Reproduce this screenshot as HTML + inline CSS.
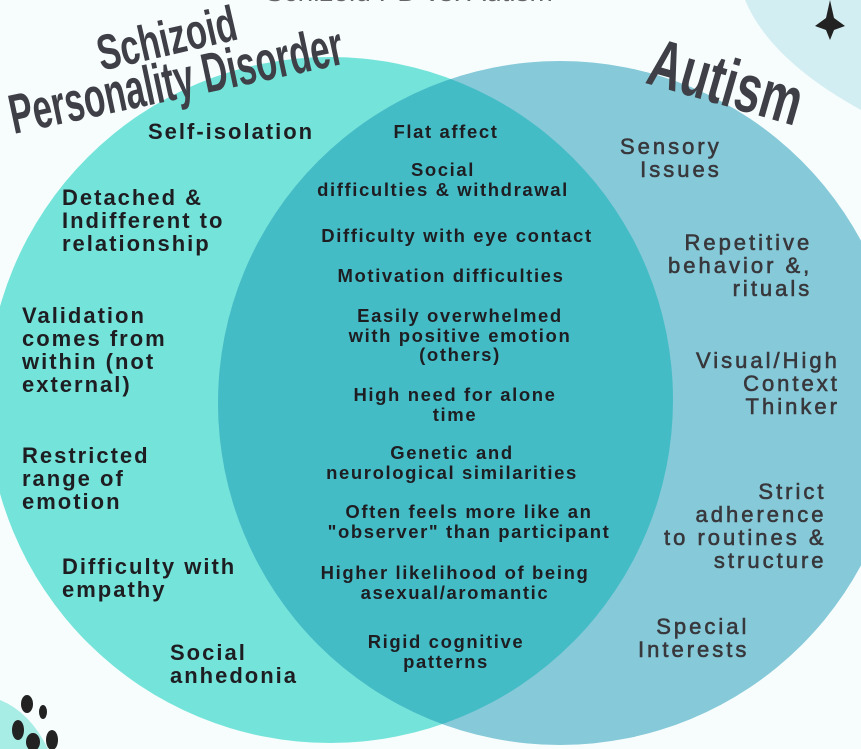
<!DOCTYPE html>
<html><head><meta charset="utf-8"><style>
body{margin:0;width:861px;height:749px;overflow:hidden;background:#f7fdfd;position:relative;font-family:"Liberation Sans",sans-serif}
.t{position:absolute;font-weight:bold;color:#1e1e22;white-space:nowrap}
.L{font-size:22px;letter-spacing:2px;line-height:23px}
.M{font-size:18.5px;letter-spacing:1.6px;line-height:19.5px;text-align:center;transform:translateX(-50%)}
.R{font-size:22px;letter-spacing:3px;color:#38383c;font-weight:normal;-webkit-text-stroke:0.6px #38383c;line-height:23px}
.title{position:absolute;font-weight:bold;color:#3e3f47;white-space:nowrap;font-family:"Liberation Sans Narrow","Liberation Sans",sans-serif;line-height:1}
</style></head><body>
<svg width="861" height="749" style="position:absolute;left:0;top:0">
<defs><clipPath id="c"><circle cx="330" cy="400" r="343"/></clipPath></defs>
<path d="M745 0 Q770 60 861 110 L861 0Z" fill="#d3eef2"/>
<path d="M830 0 L834 18 L845 26 L834 30 L830 40 L826 30 L815 26 L826 18Z" fill="#222"/>
<circle cx="330" cy="400" r="343" fill="#74e4da"/>
<circle cx="560" cy="403" r="342" fill="#86c9d9"/>
<circle cx="560" cy="403" r="342" fill="#44bcc6" clip-path="url(#c)"/>
<path d="M0 700 Q30 712 48 749 L0 749Z" fill="#a8ece6"/>
<g fill="#222"><ellipse cx="27" cy="704" rx="6" ry="9"/><ellipse cx="43" cy="712" rx="4" ry="7"/><ellipse cx="18" cy="730" rx="6" ry="10"/><ellipse cx="33" cy="742" rx="7" ry="9"/><ellipse cx="52" cy="740" rx="6" ry="10"/></g>
</svg>
<div class="title" style="left:265px;top:-22px;font-size:28px;color:#666;font-weight:normal;font-family:'Liberation Sans',sans-serif">Schizoid PD vs. Autism</div>
<div class="title" style="left:92px;top:30px;font-size:50px;transform:rotate(-13deg) scaleX(0.69);transform-origin:left top">Schizoid</div>
<div class="title" style="left:4px;top:88px;font-size:56px;transform:rotate(-12deg) scaleX(0.62);transform-origin:left top">Personality Disorder</div>
<div class="title" style="left:660px;top:28px;font-size:68px;transform:rotate(16deg) scaleX(0.68);transform-origin:left top">Autism</div>

<div class="t L" style="left:148px;top:120px">Self-isolation</div>
<div class="t L" style="left:62px;top:186px">Detached &amp;<br>Indifferent to<br>relationship</div>
<div class="t L" style="left:22px;top:304px">Validation<br>comes from<br>within (not<br>external)</div>
<div class="t L" style="left:22px;top:444px">Restricted<br>range of<br>emotion</div>
<div class="t L" style="left:62px;top:555px">Difficulty with<br>empathy</div>
<div class="t L" style="left:170px;top:641px">Social<br>anhedonia</div>

<div class="t M" style="left:446px;top:122px">Flat affect</div>
<div class="t M" style="left:443px;top:160px">Social<br>difficulties &amp; withdrawal</div>
<div class="t M" style="left:457px;top:226px">Difficulty with eye contact</div>
<div class="t M" style="left:451px;top:266px">Motivation difficulties</div>
<div class="t M" style="left:460px;top:306px">Easily overwhelmed<br>with positive emotion<br>(others)</div>
<div class="t M" style="left:455px;top:385px">High need for alone<br>time</div>
<div class="t M" style="left:452px;top:443px">Genetic and<br>neurological similarities</div>
<div class="t M" style="left:469px;top:502px">Often feels more like an<br>"observer" than participant</div>
<div class="t M" style="left:455px;top:563px">Higher likelihood of being<br>asexual/aromantic</div>
<div class="t M" style="left:446px;top:632px">Rigid cognitive<br>patterns</div>

<div class="t R" style="left:620px;top:135px;text-align:right">Sensory<br>&nbsp;Issues</div>
<div class="t R" style="left:668px;top:231px;text-align:right">Repetitive<br>behavior &amp;,<br>rituals</div>
<div class="t R" style="left:696px;top:349px;text-align:right">Visual/High<br>Context<br>Thinker</div>
<div class="t R" style="left:664px;top:480px;text-align:right">Strict<br>adherence<br>to routines &amp;<br>structure</div>
<div class="t R" style="left:638px;top:615px;text-align:right">Special<br>Interests</div>
</body></html>
